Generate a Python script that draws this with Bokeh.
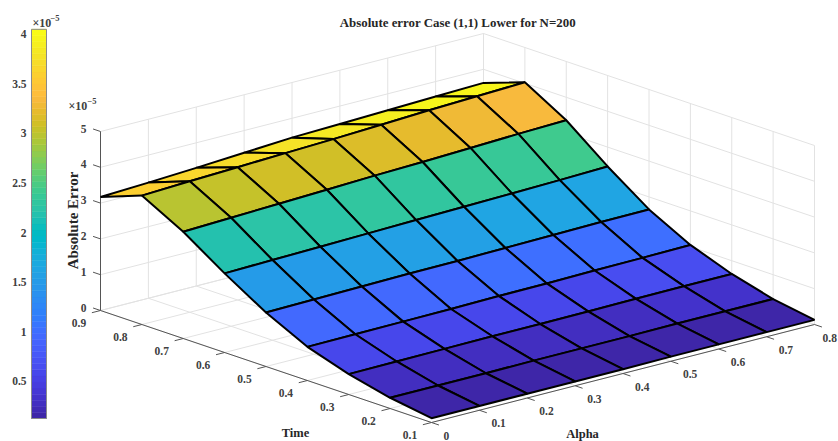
from bokeh.plotting import figure
from bokeh.models import Range1d, ColumnDataSource, LinearColorMapper
from bokeh.core.properties import value
from bokeh.embed import file_html
from bokeh.resources import INLINE
import math

# ---------- data ----------
alpha_vals = [0.0, 0.1, 0.2, 0.3, 0.4, 0.5, 0.6, 0.7, 0.8]
time_vals = [0.1, 0.2, 0.3, 0.4, 0.5, 0.6, 0.7, 0.8, 0.9]
err_t01 = [0.12, 0.12, 0.12, 0.12, 0.12, 0.13, 0.13, 0.13, 0.13]
err_t02 = [0.30, 0.30, 0.30, 0.31, 0.31, 0.31, 0.32, 0.32, 0.32]
err_t03 = [0.57, 0.58, 0.59, 0.60, 0.60, 0.61, 0.62, 0.63, 0.63]
err_t04 = [0.94, 0.95, 0.96, 0.97, 0.99, 1.00, 1.02, 1.03, 1.05]
err_t05 = [1.51, 1.53, 1.55, 1.57, 1.58, 1.60, 1.62, 1.64, 1.65]
err_t06 = [2.21, 2.24, 2.27, 2.30, 2.33, 2.36, 2.39, 2.42, 2.46]
err_t07 = [2.98, 3.03, 3.08, 3.13, 3.18, 3.22, 3.27, 3.32, 3.36]
err_t08 = [3.60, 3.66, 3.71, 3.76, 3.81, 3.87, 3.93, 3.98, 4.03]
err_t09 = [3.17, 3.23, 3.30, 3.38, 3.46, 3.50, 3.54, 3.58, 3.62]
err_rows = [err_t01, err_t02, err_t03, err_t04, err_t05, err_t06, err_t07, err_t08, err_t09]
z_ticks = [0, 1, 2, 3, 4, 5]
cb_ticks = [0.5, 1, 1.5, 2, 2.5, 3, 3.5, 4]
cb_low, cb_high = 0.127, 4.05
title = "Absolute error Case (1,1) Lower for N=200"

parula = [(0.2422,0.1504,0.6603),(0.2504,0.1650,0.7076),(0.2578,0.1818,0.7511),(0.2647,0.1978,0.7952),
(0.2706,0.2147,0.8364),(0.2751,0.2342,0.8710),(0.2783,0.2559,0.8991),(0.2803,0.2782,0.9221),
(0.2813,0.3006,0.9414),(0.2810,0.3228,0.9579),(0.2795,0.3447,0.9717),(0.2760,0.3667,0.9829),
(0.2699,0.3892,0.9906),(0.2602,0.4123,0.9952),(0.2440,0.4358,0.9988),(0.2206,0.4603,0.9973),
(0.1963,0.4847,0.9892),(0.1834,0.5074,0.9798),(0.1786,0.5289,0.9682),(0.1764,0.5499,0.9520),
(0.1687,0.5703,0.9359),(0.1540,0.5902,0.9218),(0.1460,0.6091,0.9079),(0.1380,0.6276,0.8973),
(0.1248,0.6459,0.8883),(0.1113,0.6635,0.8763),(0.0952,0.6798,0.8598),(0.0689,0.6948,0.8394),
(0.0297,0.7082,0.8163),(0.0036,0.7203,0.7917),(0.0067,0.7312,0.7660),(0.0433,0.7411,0.7394),
(0.0964,0.7500,0.7120),(0.1408,0.7584,0.6842),(0.1717,0.7670,0.6554),(0.1938,0.7758,0.6251),
(0.2161,0.7843,0.5923),(0.2470,0.7918,0.5567),(0.2906,0.7973,0.5188),(0.3406,0.8008,0.4789),
(0.3909,0.8029,0.4354),(0.4456,0.8024,0.3909),(0.5044,0.7993,0.3480),(0.5616,0.7942,0.3045),
(0.6174,0.7876,0.2612),(0.6720,0.7793,0.2227),(0.7242,0.7698,0.1910),(0.7738,0.7598,0.1646),
(0.8203,0.7498,0.1535),(0.8634,0.7406,0.1596),(0.9035,0.7330,0.1774),(0.9393,0.7288,0.2100),
(0.9728,0.7298,0.2394),(0.9956,0.7434,0.2371),(0.9970,0.7659,0.2199),(0.9952,0.7893,0.2028),
(0.9892,0.8136,0.1885),(0.9786,0.8386,0.1766),(0.9676,0.8639,0.1643),(0.9610,0.8890,0.1537),
(0.9597,0.9135,0.1423),(0.9628,0.9373,0.1265),(0.9691,0.9606,0.1064),(0.9769,0.9839,0.0805)]
palette = ["#%02x%02x%02x" % tuple(round(c * 255) for c in rgb) for rgb in parula]

# ---------- projection: MATLAB-style orthographic 3D axes, in page pixels ----------
ORIGIN = (431.0, 422.0)          # alpha=0, time=0.1, z=0
A_DIR = (383.0 / 0.8, -98.0 / 0.8)
T_DIR = (-331.0 / 0.8, -112.0 / 0.8)
Z_DIR = (0.0, -35.8)

def proj(a, t, z=0.0):
    return (ORIGIN[0] + a * A_DIR[0] + (t - 0.1) * T_DIR[0] + z * Z_DIR[0],
            ORIGIN[1] + a * A_DIR[1] + (t - 0.1) * T_DIR[1] + z * Z_DIR[1])

def cb_y(v):
    return 418.0 - (v - cb_low) * 99.2

p = figure(width=838, height=441, x_range=Range1d(0, 838), y_range=Range1d(441, 0),
           tools="", toolbar_location=None, output_backend="svg",
           x_axis_location=None, y_axis_location=None, min_border=0,
           background_fill_color="white", border_fill_color="white", outline_line_color=None)
p.xgrid.visible = False
p.ygrid.visible = False

mapper = LinearColorMapper(palette=palette, low=cb_low, high=cb_high)
a0, a1 = alpha_vals[0], alpha_vals[-1]
t0, t1 = time_vals[0], time_vals[-1]
GRID = "#e2e2e2"
AXIS = "#555555"
FONT = value("Liberation Serif")

def seg(pts, color, width):
    p.line([q[0] for q in pts], [q[1] for q in pts], line_color=color, line_width=width)

# back walls and floor grid
for a in alpha_vals:
    seg([proj(a, t0), proj(a, t1), proj(a, t1, z_ticks[-1])], GRID, 1)
for t in time_vals:
    seg([proj(a0, t), proj(a1, t), proj(a1, t, z_ticks[-1])], GRID, 1)
for z in z_ticks:
    seg([proj(a0, t1, z), proj(a1, t1, z), proj(a1, t0, z)], GRID, 1)

# axes
seg([proj(a0, t1, 0), proj(a0, t1, z_ticks[-1])], AXIS, 1)
seg([proj(a0, t1), proj(a0, t0)], AXIS, 1)
seg([proj(a0, t0), proj(a1, t0)], AXIS, 1)
for z in z_ticks:
    seg([proj(a0, t1, z), proj(a0, t1 + 0.018, z)], AXIS, 1)
for t in time_vals:
    seg([proj(a0, t), proj(a0 - 0.018, t)], AXIS, 1)
for a in alpha_vals:
    seg([proj(a, t0), proj(a, t0 - 0.018)], AXIS, 1)

# surface, far cells first; flat colour from the lower-index corner
xs, ys, zs = [], [], []
for k in range(len(time_vals) - 2, -1, -1):
    for i in range(len(alpha_vals) - 2, -1, -1):
        corners = [proj(alpha_vals[i], time_vals[k], err_rows[k][i]),
                   proj(alpha_vals[i + 1], time_vals[k], err_rows[k][i + 1]),
                   proj(alpha_vals[i + 1], time_vals[k + 1], err_rows[k + 1][i + 1]),
                   proj(alpha_vals[i], time_vals[k + 1], err_rows[k + 1][i])]
        xs.append([c[0] for c in corners])
        ys.append([c[1] for c in corners])
        zs.append(err_rows[k][i])
p.patches("xs", "ys", source=ColumnDataSource(dict(xs=xs, ys=ys, z=zs)),
          fill_color={"field": "z", "transform": mapper}, line_color="black", line_width=2)

# colour bar
n = len(palette)
edges = [cb_low + (cb_high - cb_low) * j / n for j in range(n + 1)]
p.quad(left=31, right=46, bottom=[cb_y(v) for v in edges[:-1]], top=[cb_y(v) for v in edges[1:]],
       fill_color=palette, line_color=palette, line_width=0.5)
p.quad(left=[31], right=[46], bottom=[cb_y(cb_low)], top=[cb_y(cb_high)],
       fill_color=None, line_color="#8a8a8a", line_width=1)

def label(x, y, txt, size="11.5px", align="center", color="#404040", angle=0.0):
    p.text(x=[x], y=[y], text=[txt], text_font=FONT, text_font_style="bold", text_font_size=size,
           text_align=align, text_baseline="middle", text_color=color, angle=angle)

for v in cb_ticks:
    label(26, cb_y(v), f"{v:g}", align="right")
for z in z_ticks:
    sx, sy = proj(a0, t1, z)
    label(sx - 14, sy - 3, str(z), align="right")
for t in time_vals:
    sx, sy = proj(a0, t)
    label(sx - 21.5, sy + 12.5, f"{t:.1f}")
for a in alpha_vals:
    sx, sy = proj(a, t0)
    label(min(sx + 12, 822), sy + 13, f"{a:g}", align="left")

label(457.5, 22.5, title, size="12.9px", color="#262626")
label(72, 220, "Absolute Error", size="15px", color="#262626", angle=math.pi / 2)
label(295, 432, "Time", size="12.5px", color="#262626")
label(582, 433.5, "Alpha", size="12.5px", color="#262626")
# exponent markers
label(32, 22.5, "×10", align="left", size="12px")
label(50, 17.5, "\u22125", size="8.5px", align="left")
label(68, 105.5, "×10", align="left", size="12px")
label(87, 100.5, "\u22125", size="8.5px", align="left")

open("out.html", "w").write(file_html(p, INLINE))
